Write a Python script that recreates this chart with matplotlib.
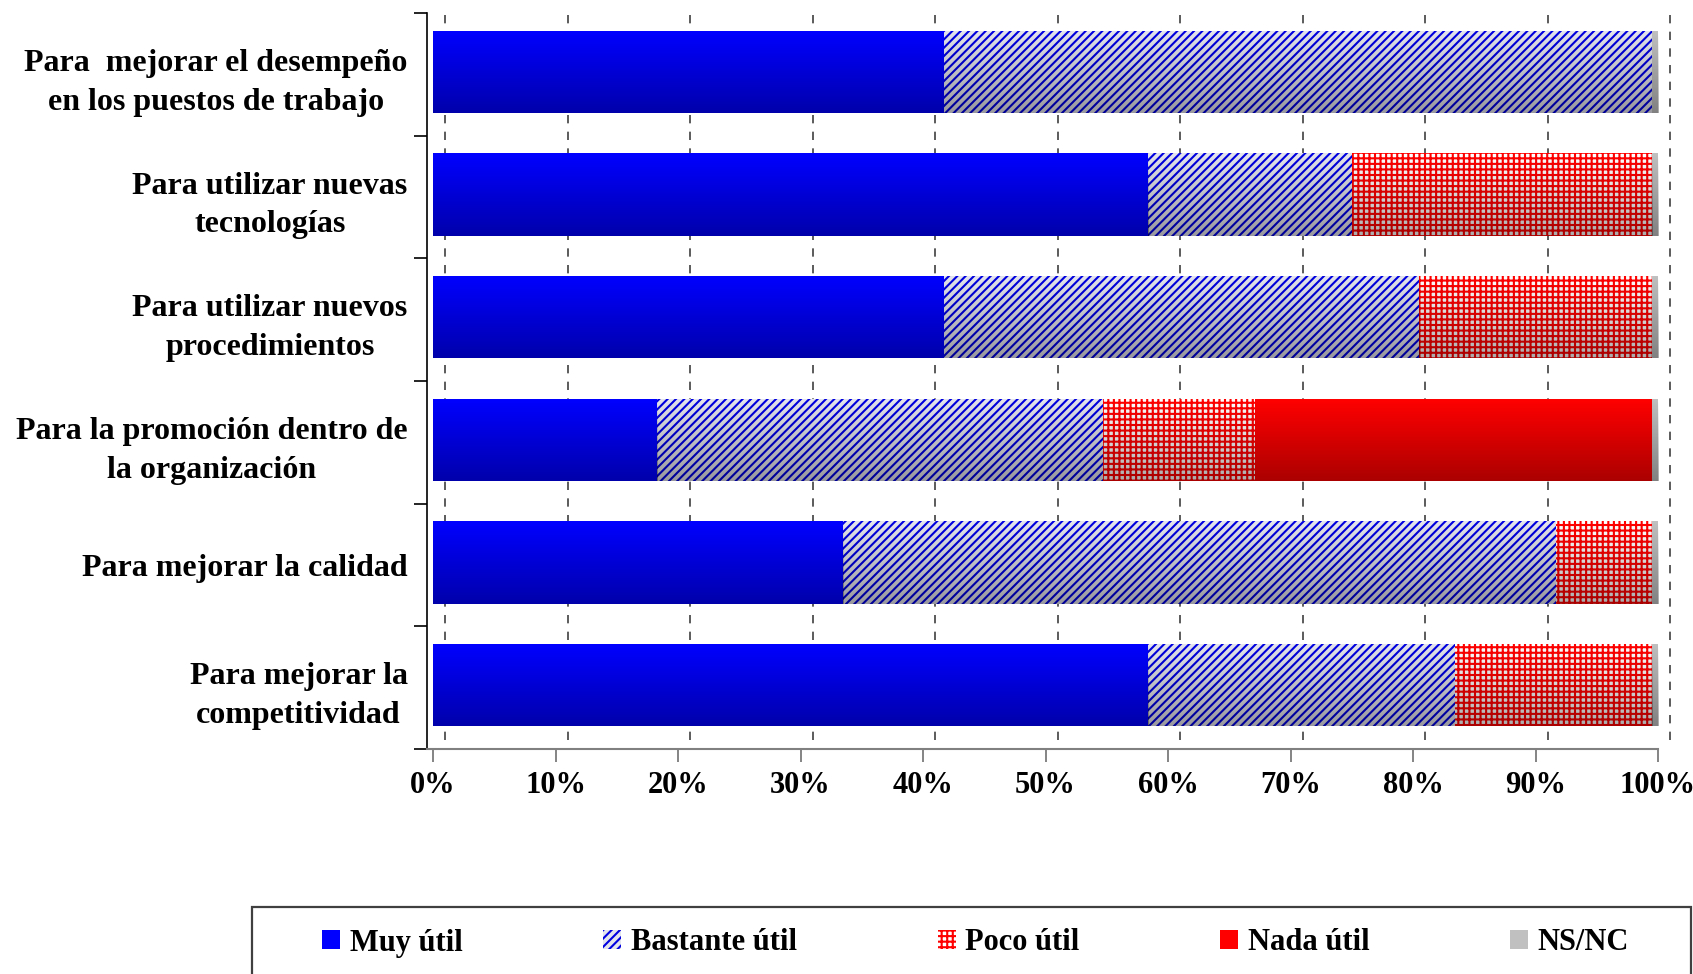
import numpy as np
import matplotlib
matplotlib.use("Agg")
import matplotlib.pyplot as plt
import matplotlib.transforms as mtransforms
from matplotlib.patches import Rectangle

categorias = ["Para  mejorar el desempeño\nen los puestos de trabajo",
              "Para utilizar nuevas\ntecnologías",
              "Para utilizar nuevos\nprocedimientos",
              "Para la promoción dentro de\nla organización",
              "Para mejorar la calidad",
              "Para mejorar la\ncompetitividad"]

muy_util = [41.7, 58.4, 41.7, 18.3, 33.5, 58.4]
bastante_util = [57.8, 16.6, 38.8, 36.4, 58.2, 25.0]
poco_util = [0, 24.5, 19.0, 12.4, 7.8, 16.1]
nada_util = [0, 0, 0, 32.4, 0, 0]
ns_nc = [0.5, 0.5, 0.5, 0.5, 0.5, 0.5]

series_labels = ["Muy útil", "Bastante útil", "Poco útil", "Nada útil", "NS/NC"]
xticks = list(range(0, 101, 10))

plt.rcParams['font.family'] = ['Liberation Serif', 'DejaVu Serif']
plt.rcParams['font.weight'] = 'bold'
plt.rcParams['hatch.linewidth'] = 1.5

W, H = 1693, 974
fig = plt.figure(figsize=(W / 100, H / 100), dpi=100)
ax = fig.add_axes([427 / W, 1 - 749 / H, (1658 - 427) / W, (749 - 13) / H])

# estilo de cada serie: (color, relleno, trama)
estilos = [
    dict(color="#0000FF", edgecolor="#0000FF", hatch=None),
    dict(color="#E4E4EC", edgecolor="#0000E0", hatch="////"),
    dict(color="#FFFFFF", edgecolor="#FF0000", hatch="+++"),
    dict(color="#FF0000", edgecolor="#FF0000", hatch=None),
    dict(color="#C0C0C0", edgecolor="#C0C0C0", hatch=None),
]
valores = [muy_util, bastante_util, poco_util, nada_util, ns_nc]

y = np.arange(len(categorias))
alto = 0.67
izq = np.zeros(len(categorias))
handles = []
# sombreado para imitar el volumen de las barras
sombra = np.zeros((64, 1, 4))
sombra[:, 0, 3] = np.linspace(0.0, 0.33, 64)

for vals, est, lab in zip(valores, estilos, series_labels):
    bars = ax.barh(y - 0.02, vals, left=izq, height=alto, color=est["color"],
                   edgecolor=est["edgecolor"], hatch=est["hatch"],
                   linewidth=0, label=lab, zorder=2)
    handles.append(bars)
    for b, v, l, yc in zip(bars, vals, izq, y - 0.02):
        if v <= 0:
            continue
        im = ax.imshow(sombra, extent=(l, l + v, yc + alto / 2, yc - alto / 2),
                       origin="upper", aspect="auto", zorder=3,
                       interpolation="bilinear")
        im.set_clip_path(b)
    izq = izq + np.array(vals)

ax.set_xlim(-0.5, 100)
ax.set_ylim(len(categorias) - 0.5, -0.5)

# lineas de la pared del fondo (desplazadas por la perspectiva)
trans = mtransforms.offset_copy(ax.get_xaxis_transform(), fig=fig, x=12, y=0, units="dots")
ax.vlines(xticks, 0.012, 1, transform=trans, colors="#404040", linewidth=1.2,
          linestyles=(0, (5, 5)), zorder=1, clip_on=False)

ax.set_xticks(xticks)
ax.set_xticklabels(["{}%".format(v) for v in xticks], fontsize=22, fontweight="bold")
ax.set_yticks(y)
ax.set_yticklabels(categorias, fontsize=23, fontweight="bold", linespacing=1.45)
for t in ax.get_yticklabels():
    t.set_multialignment("center")
ax.set_yticks(np.arange(-0.5, len(categorias), 1), minor=True)

ax.tick_params(axis="y", which="major", length=0, pad=14)
ax.tick_params(axis="y", which="minor", length=9.5, width=1.2, color="black", direction="out")
ax.tick_params(axis="x", which="major", length=9.5, width=1.2, color="#707070",
               direction="out", pad=6)

for s in ["top", "right"]:
    ax.spines[s].set_visible(False)
ax.spines["left"].set_color("black")
ax.spines["left"].set_linewidth(1.2)
ax.spines["bottom"].set_color("#808080")
ax.spines["bottom"].set_linewidth(1.5)

fig.legend(handles, series_labels, loc="center left",
           bbox_to_anchor=(322 / W, 1 - 943 / H, (1629 - 322) / W, 0),
           mode="expand", ncol=5, frameon=False,
           prop=dict(family="Liberation Serif", weight="bold", size=22),
           handlelength=0.6, handleheight=0.6, handletextpad=0.3,
           borderpad=0, borderaxespad=0)
fig.add_artist(Rectangle((252 / W, -0.05), (1691 - 252) / W, 0.05 + 1 - 907 / H,
                         transform=fig.transFigure, fill=False,
                         edgecolor="#404040", linewidth=1.6))

fig.savefig("out.png", dpi=100)
